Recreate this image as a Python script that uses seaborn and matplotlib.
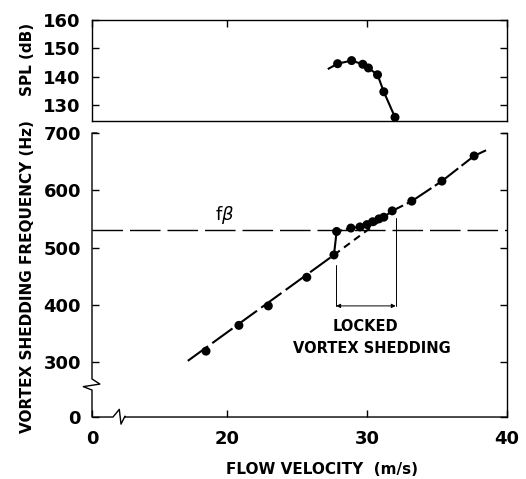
import numpy as np
import matplotlib
matplotlib.use("Agg")
import matplotlib.pyplot as plt
import seaborn as sns

# SPL (upper panel)
spl_velocity = [27.9, 28.9, 29.7, 30.1, 30.75, 31.2, 32.0]
spl_db = [144.6, 145.7, 144.4, 143.1, 140.7, 134.7, 125.7]
spl_lead_velocity = [27.2, 27.9]
spl_lead_db = [142.7, 144.6]

# vortex shedding frequency (lower panel)
free_velocity = [18.5, 20.85, 22.95, 25.7, 27.64]
free_freq = [319, 364, 398, 448, 487]
locked_velocity = [27.83, 28.85, 29.5, 30.0, 30.4, 30.85, 31.2, 31.8]
locked_freq = [528, 534, 536, 540, 545, 550, 553, 564]
high_velocity = [33.2, 35.35, 37.65]
high_freq = [581, 616, 660]

# straight line through the free shedding points + dashed extension
fit_velocity = [17.2, 27.64]
fit_freq = [302, 487]
ext_velocity = [27.64, 31.0]
ext_freq = [487, 548]
curve_end = (38.6, 671)

f_beta = 531
lock_left, lock_right = 27.8, 32.05
lock_bottom = 398
lock_left_top, lock_right_top = 470, 552

x_ticks = [0, 20, 30, 40]
spl_ticks = [130, 140, 150, 160]
freq_ticks = [0, 300, 400, 500, 600, 700]


# broken axes: 0-12.5 m/s and 0-250 Hz are squeezed into a short stretch
X_B, X0 = 12.5, 10.357
Y_B, Y0 = 250.0, 203.9


def x_fwd(x):
    x = np.asarray(x, dtype=float)
    return np.where(x < X_B, X0 + x * (X_B - X0) / X_B, x)


def x_inv(u):
    u = np.asarray(u, dtype=float)
    return np.where(u < X_B, (u - X0) * X_B / (X_B - X0), u)


def y_fwd(y):
    y = np.asarray(y, dtype=float)
    return np.where(y < Y_B, Y0 + y * (Y_B - Y0) / Y_B, y)


def y_inv(u):
    u = np.asarray(u, dtype=float)
    return np.where(u < Y_B, (u - Y0) * Y_B / (Y_B - Y0), u)


sns.set_style("ticks")
plt.rcParams['font.family'] = ['DejaVu Sans']
for key in ('text.color', 'axes.labelcolor', 'xtick.color', 'ytick.color', 'axes.edgecolor'):
    plt.rcParams[key] = 'black'

fig = plt.figure(figsize=(5.26, 4.79), dpi=100)
ax_top = fig.add_axes([0.1749, 0.7474, 0.789, 0.2108])
ax = fig.add_axes([0.1749, 0.1294, 0.789, 0.5929])

lw_data = 1.5
for a in (ax_top, ax):
    a.set_xscale('function', functions=(x_fwd, x_inv))
    a.set_xlim(0, 40)
    a.set_xticks(x_ticks)
    for s in a.spines.values():
        s.set_linewidth(1.0)
        s.set_color('black')

# ---- upper panel
sns.lineplot(x=spl_lead_velocity, y=spl_lead_db, ax=ax_top, color='black', lw=lw_data,
             linestyle=(0, (4, 2.5)), sort=False, estimator=None)
sns.lineplot(x=spl_velocity + [32.05], y=spl_db + [124.4], ax=ax_top, color='black', lw=lw_data,
             sort=False, estimator=None)
sns.scatterplot(x=spl_velocity, y=spl_db, ax=ax_top, color='black', s=42, edgecolor='none', zorder=3)
ax_top.set_ylim(124.4, 160)
ax_top.set_yticks(spl_ticks)
ax_top.tick_params(axis='x', direction='in', length=5, width=1, top=True, bottom=False,
                   labelbottom=False)
ax_top.tick_params(axis='y', direction='in', length=5, width=1, left=True, right=True,
                   labelsize=13, pad=8)

# ---- lower panel
ax.set_yscale('function', functions=(y_fwd, y_inv))
ax.set_ylim(0, 700)
ax.set_yticks(freq_ticks)

ax.axhline(f_beta, color='black', lw=1.0, linestyle=(0, (22, 5)))
sns.lineplot(x=fit_velocity, y=fit_freq, ax=ax, color='black', lw=lw_data,
             linestyle=(0, (12, 2.5)), sort=False, estimator=None)
sns.lineplot(x=ext_velocity, y=ext_freq, ax=ax, color='black', lw=lw_data,
             linestyle=(0, (3.5, 2.5)), sort=False, estimator=None)
upper_v = [free_velocity[-1]] + locked_velocity + high_velocity + [curve_end[0]]
upper_f = [free_freq[-1]] + locked_freq + high_freq + [curve_end[1]]
sns.lineplot(x=upper_v, y=upper_f, ax=ax, color='black', lw=lw_data,
             linestyle=(0, (14, 2)), sort=False, estimator=None)
sns.scatterplot(x=free_velocity + locked_velocity + high_velocity,
                y=free_freq + locked_freq + high_freq,
                ax=ax, color='black', s=42, edgecolor='none', zorder=3)

# locked range markers
ax.plot([lock_left, lock_left], [lock_bottom, lock_left_top], color='black', lw=0.7)
ax.plot([lock_right, lock_right], [lock_bottom, lock_right_top], color='black', lw=0.7)
ax.annotate('', xy=(lock_left, lock_bottom), xytext=(lock_right, lock_bottom),
            arrowprops=dict(arrowstyle='<|-|>', lw=0.7, color='black', mutation_scale=6,
                            shrinkA=0, shrinkB=0))
ax.text(29.86, 362, 'LOCKED', ha='center', va='center', fontsize=10.5, fontweight='bold')
ax.text(30.36, 324, 'VORTEX SHEDDING', ha='center', va='center', fontsize=10.5,
        fontweight='bold')
ax.text(19.8, 556, r'f$\beta$', ha='center', va='center', fontsize=13)

ax.tick_params(axis='x', direction='in', length=5, width=1, top=False, labelsize=13, pad=9)
ax.tick_params(axis='y', direction='in', length=5, width=1, left=True, right=True,
               labelsize=13, pad=8)

for a in (ax_top, ax):
    plt.setp(a.get_xticklabels() + a.get_yticklabels(), fontweight='bold')

# axis breaks drawn instead of left/bottom/top spines
ax.spines['left'].set_visible(False)
ax.spines['bottom'].set_visible(False)
ax.spines['top'].set_visible(False)
brk_x = [0.012, 0, 0, 0.019, -0.021, 0, 0, 0.0506, 0.0658, 0.0699, 0.0795, 0.0795, 1]
brk_y = [1, 1, 0.134, 0.116, 0.107, 0.095, 0, 0, 0.027, -0.025, 0.003, 0, 0]
ax.plot(brk_x, brk_y, transform=ax.transAxes, color='black', lw=1.0, clip_on=False)
ax.plot([0.988, 1], [1, 1], transform=ax.transAxes, color='black', lw=1.0, clip_on=False)

ax.set_xlabel('')
ax.set_ylabel('')
ax_top.set_xlabel('')
ax_top.set_ylabel('')
fig.text(0.613, 0.019, 'FLOW VELOCITY  (m/s)', ha='center', va='center', fontsize=11,
         fontweight='bold')
fig.text(0.053, 0.4217, 'VORTEX SHEDDING FREQUENCY (Hz)', ha='center', va='center',
         rotation=90, fontsize=11, fontweight='bold')
fig.text(0.053, 0.875, 'SPL (dB)', ha='center', va='center', rotation=90, fontsize=11,
         fontweight='bold')

fig.savefig('out.png', dpi=100)
